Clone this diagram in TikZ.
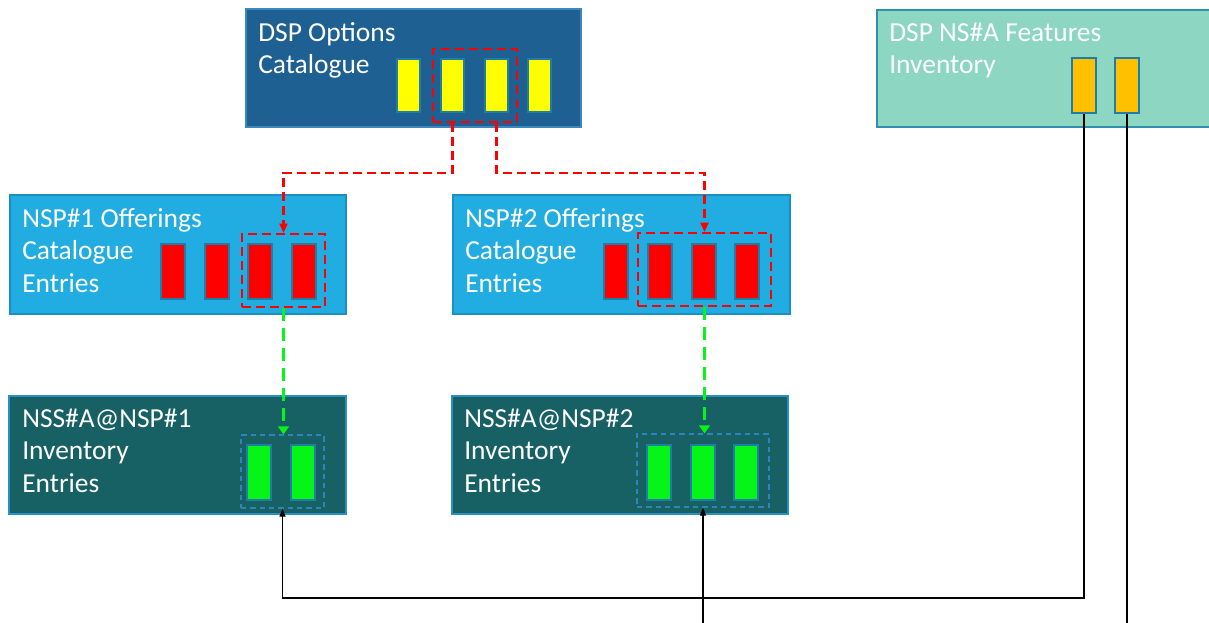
\documentclass[tikz,border=0pt]{standalone}
\usepackage{fontspec}
\setmainfont{Carlito}
\usetikzlibrary{arrows.meta,fit}

\definecolor{dspfill}{RGB}{31,96,146}
\definecolor{dspline}{RGB}{60,136,190}
\definecolor{nsafill}{RGB}{141,214,194}
\definecolor{nsaline}{RGB}{46,143,174}
\definecolor{nspfill}{RGB}{33,173,226}
\definecolor{nspline}{RGB}{27,143,196}
\definecolor{nssfill}{RGB}{23,97,101}
\definecolor{nssline}{RGB}{42,143,194}
\definecolor{cellline}{RGB}{31,126,168}
\definecolor{optyellow}{RGB}{255,255,0}
\definecolor{offred}{RGB}{255,0,0}
\definecolor{invgreen}{RGB}{6,245,24}
\definecolor{featorange}{RGB}{255,192,0}
\definecolor{grpblue}{RGB}{44,134,186}

\begin{document}
\begin{tikzpicture}[x=0.75pt,y=-0.75pt,
  panel/.style={draw, line width=1.1pt, inner sep=0pt},
  cell/.style={draw=cellline, line width=1.1pt, inner sep=0pt},
  redgrp/.style={draw=offred, line width=1.6pt, dash pattern=on 7pt off 3.5pt, inner sep=0pt},
  bluegrp/.style={draw=grpblue, line width=0.9pt, dash pattern=on 4pt off 3pt, inner sep=0pt},
  title/.style={anchor=north west, inner sep=0pt, align=left, text=white,
    font=\fontsize{20.6}{24.4}\selectfont},
  redlink/.style={draw=offred, line width=1.6pt, dash pattern=on 7pt off 3.5pt,
    -{Triangle[length=7pt,width=6pt]}},
  greenlink/.style={draw=invgreen, line width=2.4pt, dash pattern=on 10pt off 5pt,
    -{Triangle[length=6pt,width=8pt]}},
  blacklink/.style={draw=black, line width=0.9pt},
  blackarrow/.style={blacklink, -{Triangle[length=6pt,width=4.5pt]}}
]
\useasboundingbox (0,0) rectangle (1209,622);

% ---- panels ----
\node[panel, draw=dspline, fill=dspfill, fit={(246,9) (581,127)}] (dsp) {};
\node[panel, draw=nsaline, fill=nsafill, fit={(877,10) (1214,127)}] (nsa) {};
\node[panel, draw=nspline, fill=nspfill, fit={(10,195) (346,314)}] (nsp1) {};
\node[panel, draw=nspline, fill=nspfill, fit={(453,195) (790,314)}] (nsp2) {};
\node[panel, draw=nssline, fill=nssfill, fit={(9,396) (346,514)}] (nss1) {};
\node[panel, draw=nssline, fill=nssfill, fit={(452,396) (788,514)}] (nss2) {};

% ---- panel titles ----
\node[title] (tdsp)  at (258,18.2)  {\strut DSP Options\\Catalogue};
\node[title] (tnsa)  at (889,18.2)  {\strut DSP NS\#A Features\\Inventory};
\node[title] (tnsp1) at (22,204.2)  {\strut NSP\#1 Offerings\\Catalogue\\Entries};
\node[title] (tnsp2) at (465,204.2) {\strut NSP\#2 Offerings\\Catalogue\\Entries};
\node[title] (tnss1) at (22,404.2)  {\strut NSS\#A@NSP\#1\\Inventory\\Entries};
\node[title] (tnss2) at (464,404.2) {\strut NSS\#A@NSP\#2\\Inventory\\Entries};

% ---- catalogue options (yellow) ----
\node[cell, fill=optyellow, fit={(397,59) (420,112)}] (y1) {};
\node[cell, fill=optyellow, fit={(441,59) (464,112)}] (y2) {};
\node[cell, fill=optyellow, fit={(485,59) (508,112)}] (y3) {};
\node[cell, fill=optyellow, fit={(528,59) (551,112)}] (y4) {};
\node[redgrp, fit={(433,49) (517,122)}] (ygrp) {};

% ---- features (orange) ----
\node[cell, fill=featorange, fit={(1072,58) (1096,113)}] (o1) {};
\node[cell, fill=featorange, fit={(1115,58) (1139,113)}] (o2) {};

% ---- offerings NSP#1 (red) ----
\node[cell, fill=offred, fit={(161,244) (185,299)}] (ra1) {};
\node[cell, fill=offred, fit={(205,244) (229,299)}] (ra2) {};
\node[cell, fill=offred, fit={(248,244) (272,299)}] (ra3) {};
\node[cell, fill=offred, fit={(292,244) (316,299)}] (ra4) {};
\node[redgrp, fit={(242,234) (325,307)}] (ragrp) {};

% ---- offerings NSP#2 (red) ----
\node[cell, fill=offred, fit={(604,244) (628,299)}] (rb1) {};
\node[cell, fill=offred, fit={(648,244) (672,299)}] (rb2) {};
\node[cell, fill=offred, fit={(692,244) (716,299)}] (rb3) {};
\node[cell, fill=offred, fit={(735,244) (759,299)}] (rb4) {};
\node[redgrp, fit={(638,233) (771,306)}] (rbgrp) {};

% ---- inventory NSS#A@NSP#1 (green) ----
\node[cell, fill=invgreen, fit={(247,445) (271,500)}] (ga1) {};
\node[cell, fill=invgreen, fit={(291,445) (315,500)}] (ga2) {};
\node[bluegrp, fit={(241,435) (324,508)}] (gagrp) {};

% ---- inventory NSS#A@NSP#2 (green) ----
\node[cell, fill=invgreen, fit={(647,445) (671,500)}] (gb1) {};
\node[cell, fill=invgreen, fit={(691,445) (715,500)}] (gb2) {};
\node[cell, fill=invgreen, fit={(734,445) (758,500)}] (gb3) {};
\node[bluegrp, fit={(637,434) (769,507)}] (gbgrp) {};

% ---- routing levels ----
\coordinate (rbus) at (0,173);
\coordinate (kbus) at (0,598);
\coordinate (edge) at (0,623);

% ---- options to offerings ----
\draw[redlink] (y2 |- ygrp.south) -- (y2 |- rbus) -| (ragrp.north);
\draw[redlink] (y3 |- ygrp.south) -- (y3 |- rbus) -| (rbgrp.north);

% ---- offerings to inventory ----
\draw[greenlink] (ragrp.south) -- (ragrp.south |- gagrp.north);
\draw[greenlink] (rbgrp.south) -- (rbgrp.south |- gbgrp.north);

% ---- features to inventory ----
\draw[blackarrow] (o1.south) -- (o1.south |- kbus) -| (gagrp.south);
\draw[blacklink] (o2.south) -- (o2.south |- edge);
\coordinate (in2) at (gbgrp.south |- edge);
\draw[blackarrow] (in2) -- (gbgrp.south);
\end{tikzpicture}
\end{document}
